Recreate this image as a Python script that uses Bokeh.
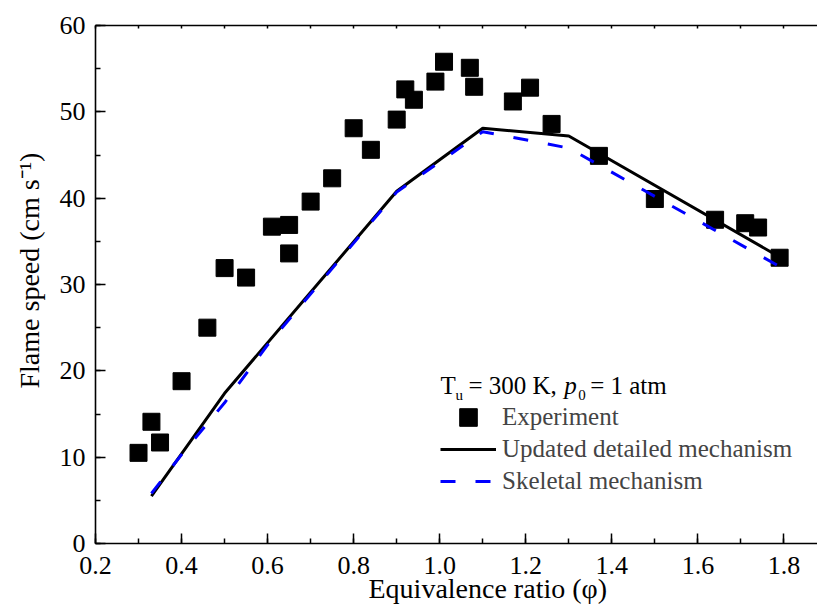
from bokeh.plotting import figure
from bokeh.models import (Range1d, LinearAxis, SingleIntervalTicker, PrintfTickFormatter,
                          Label, Legend, LegendItem, Title)
from bokeh.embed import file_html
from bokeh.resources import INLINE

# ---------------- data ----------------
phi_exp = [0.30, 0.33, 0.35, 0.40, 0.46, 0.50, 0.55, 0.61, 0.65, 0.65,
           0.70, 0.75, 0.80, 0.84, 0.90, 0.92, 0.94, 0.99, 1.01, 1.07,
           1.08, 1.17, 1.21, 1.26, 1.37, 1.50, 1.64, 1.71, 1.74, 1.79]
speed_exp = [10.5, 14.1, 11.7, 18.8, 25.0, 31.9, 30.8, 36.7, 36.9, 33.6,
             39.6, 42.3, 48.1, 45.6, 49.1, 52.6, 51.4, 53.5, 55.8, 55.1,
             52.9, 51.2, 52.8, 48.6, 44.9, 39.9, 37.5, 37.1, 36.6, 33.1]

phi_detailed = [0.33, 0.50, 0.90, 1.10, 1.30, 1.80]
speed_detailed = [5.5, 17.4, 40.8, 48.1, 47.2, 32.9]

phi_skeletal = [0.33, 0.40, 0.50, 0.60, 0.90, 1.10, 1.30, 1.80]
speed_skeletal = [5.8, 10.3, 16.3, 23.0, 40.7, 47.7, 45.8, 31.8]

series_names = ["Experiment", "Updated detailed mechanism", "Skeletal mechanism"]
x_title = "Equivalence ratio (\u03c6)"
y_title = "Flame speed (cm s\u207b\u00b9)"

FONT = "Liberation Serif"

# pixel -> data helpers for in-frame annotation placement (frame: left 93, top 25, bottom 543)
X0, X1 = 0.2, 1.878
Y0, Y1 = 0.0, 60.0
FL, FR, FT, FB = 93.0, 817.0, 25.0, 543.0
def dx(px):
    return X0 + (px - FL) * (X1 - X0) / (FR - FL)
def dy(py):
    return Y0 + (FB - py) * (Y1 - Y0) / (FB - FT)

p = figure(width=817, height=607, output_backend="svg", toolbar_location=None,
           x_range=Range1d(X0, X1), y_range=Range1d(Y0, Y1),
           min_border_left=93, min_border_right=0, min_border_top=25, min_border_bottom=64)
p.outline_line_color = None
p.xgrid.grid_line_color = None
p.ygrid.grid_line_color = None
p.background_fill_color = "white"

def style_axis(ax):
    ax.axis_line_color = "black"
    ax.axis_line_width = 1.6
    ax.major_tick_line_color = "black"
    ax.minor_tick_line_color = "black"
    ax.major_tick_line_width = 1.5
    ax.minor_tick_line_width = 1.5
    ax.major_tick_out = 0
    ax.minor_tick_out = 0
    ax.major_tick_in = 10
    ax.minor_tick_in = 5
    ax.major_label_text_font = FONT
    ax.major_label_text_font_size = "26px"
    ax.major_label_text_color = "black"
    ax.major_label_standoff = 10

xa = p.xaxis[0]
xa.ticker = SingleIntervalTicker(interval=0.2, num_minor_ticks=2)
xa.formatter = PrintfTickFormatter(format="%.1f")
style_axis(xa)
xa.major_label_standoff = 13

ya = p.yaxis[0]
ya.ticker = SingleIntervalTicker(interval=10, num_minor_ticks=2)
style_axis(ya)

top = LinearAxis(ticker=SingleIntervalTicker(interval=0.1, num_minor_ticks=0))
style_axis(top)
top.major_tick_in = 3
top.major_label_text_font_size = "0px"
top.major_label_standoff = 0
p.add_layout(top, "above")

# axis titles as side titles (so they can be shifted like in the reference)
p.add_layout(Title(text=x_title, align="left", offset=273, standoff=-8,
                   vertical_align="top",
                   text_font=FONT, text_font_size="28px", text_font_style="normal",
                   text_color="black"), "below")
p.add_layout(Title(text=y_title, align="left", offset=155, standoff=23,
                   text_font=FONT, text_font_size="28px", text_font_style="normal",
                   text_color="black"), "left")

# ---------------- marks ----------------
r_exp = p.scatter(phi_exp, speed_exp, marker="square", size=17,
                  fill_color="black", line_color="black")
r_det = p.line(phi_detailed, speed_detailed, line_color="black", line_width=3)
r_skel = p.line(phi_skeletal, speed_skeletal, line_color="#0000ff", line_width=3,
                line_dash="15 20")

common = dict(glyph_width=56, padding=0, margin=0, label_standoff=6,
              label_text_font=FONT, label_text_font_size="25px",
              border_line_color=None, background_fill_alpha=0)
leg_a = Legend(items=[LegendItem(label=series_names[0], renderers=[r_exp])],
               location=(345, 104), glyph_height=44, spacing=0, **common)
leg_b = Legend(items=[LegendItem(label=series_names[1], renderers=[r_det]),
                      LegendItem(label=series_names[2], renderers=[r_skel])],
               location=(345, 46), glyph_height=32, spacing=0, **common)
p.add_layout(leg_a)
p.add_layout(leg_b)

# legend header: T_u = 300 K, p_0 = 1 atm
def lab(text, px, py, size, style="normal"):
    p.add_layout(Label(x=dx(px), y=dy(py), text=text, text_font=FONT,
                       text_font_size=size, text_font_style=style, text_color="black",
                       text_align="left", text_baseline="alphabetic"))

lab("T", 439, 385, "25px")
lab("u", 454, 394, "15px")
lab("= 300 K,", 467, 385, "25px")
lab("p", 563, 385, "25px", style="italic")
lab("0", 577, 394, "15px")
lab("= 1 atm", 589, 385, "25px")

open("out.html", "w").write(file_html(p, INLINE))
